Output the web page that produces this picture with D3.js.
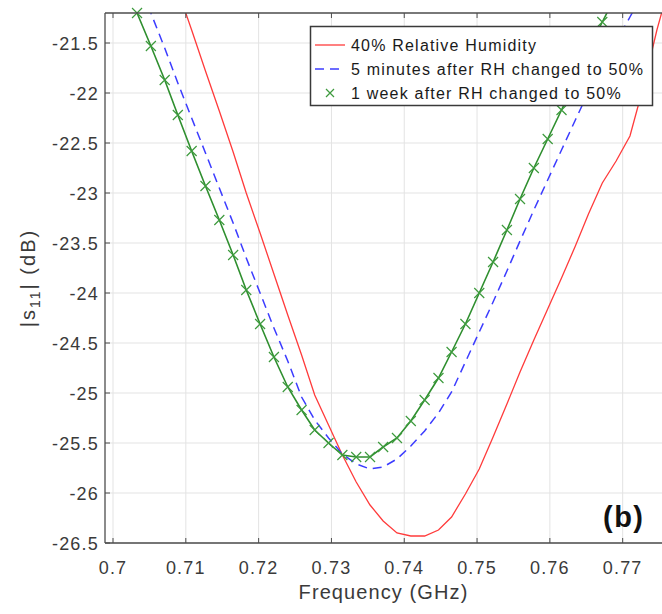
<!DOCTYPE html>
<html>
<head>
<meta charset="utf-8">
<script src="https://cdn.jsdelivr.net/npm/d3@7"></script>
<style>
  body { margin: 0; background: #fff; }
  svg { display: block; font-family: "Liberation Sans", Arial, sans-serif; }
</style>
</head>
<body>
<div id="chart"></div>
<script>
// frequency sweep points (GHz)
var freq = [0.7033, 0.7052, 0.7071, 0.7089, 0.7108, 0.7127, 0.7146, 0.7165, 0.7183, 0.7202,
            0.7221, 0.7240, 0.7259, 0.7277, 0.7296, 0.7315, 0.7334, 0.7353, 0.7371, 0.7390,
            0.7409, 0.7428, 0.7447, 0.7465, 0.7484, 0.7503, 0.7522, 0.7541, 0.7559, 0.7578,
            0.7597, 0.7616, 0.7635, 0.7653, 0.7672, 0.7691, 0.7710, 0.7729, 0.7747, 0.7766];

// |s11| in dB, null where the series has no point
var rh40 = [null, null, null, -20.97, -21.37, -21.78, -22.18, -22.59, -23.00, -23.40,
            -23.81, -24.22, -24.62, -25.02, -25.32, -25.62, -25.89, -26.12, -26.28, -26.40,
            -26.43, -26.43, -26.37, -26.24, -26.01, -25.76, -25.44, -25.11, -24.79, -24.47,
            -24.16, -23.85, -23.53, -23.21, -22.90, -22.68, -22.43, -21.92, -21.37, -20.87];

var rh50min5 = [-20.85, -21.20, -21.55, -21.90, -22.25, -22.60, -22.95, -23.30, -23.65, -24.00,
                -24.35, -24.68, -25.04, -25.27, -25.45, -25.61, -25.71, -25.76, -25.74, -25.66,
                -25.53, -25.38, -25.20, -24.99, -24.69, -24.39, -24.09, -23.78, -23.48, -23.17,
                -22.87, -22.57, -22.27, -21.99, -21.74, -21.49, -21.24, -20.99, null, null];

var rh50week = [-21.20, -21.53, -21.87, -22.22, -22.58, -22.93, -23.27, -23.62, -23.97, -24.31,
                -24.64, -24.94, -25.17, -25.37, -25.50, -25.62, -25.64, -25.64, -25.54, -25.45,
                -25.28, -25.07, -24.85, -24.59, -24.31, -24.00, -23.69, -23.37, -23.06, -22.75,
                -22.46, -22.17, -21.87, -21.57, -21.29, -21.02, null, null, null, null];

var xTicks = [0.7, 0.71, 0.72, 0.73, 0.74, 0.75, 0.76, 0.77];
var yTicks = [-26.5, -26, -25.5, -25, -24.5, -24, -23.5, -23, -22.5, -22, -21.5];

var legendLabels = ["40% Relative Humidity",
                    "5 minutes after RH changed to 50%",
                    "1 week after RH changed to 50%"];

var W = 662, H = 614;
var pl = 105, pr = 662, pt = 13, pb = 543;

var svg = d3.select("#chart").append("svg")
    .attr("width", W)
    .attr("height", H);

var x = d3.scaleLinear().domain([0.6989, 0.7754]).range([pl, pr]);
var y = d3.scaleLinear().domain([-26.5, -21.2]).range([pb, pt]);

// grid
svg.append("g").selectAll("line")
    .data(xTicks).enter().append("line")
    .attr("x1", function(d) { return x(d); })
    .attr("x2", function(d) { return x(d); })
    .attr("y1", pt).attr("y2", pb)
    .attr("stroke", "#e3e3e3").attr("stroke-width", 1);

svg.append("g").selectAll("line")
    .data(yTicks).enter().append("line")
    .attr("x1", pl).attr("x2", pr)
    .attr("y1", function(d) { return y(d); })
    .attr("y2", function(d) { return y(d); })
    .attr("stroke", "#e3e3e3").attr("stroke-width", 1);

svg.append("clipPath").attr("id", "plotclip")
    .append("rect")
    .attr("x", pl).attr("y", pt)
    .attr("width", pr - pl).attr("height", pb - pt);

function series(vals) {
    return freq.map(function(f, i) { return [f, vals[i]]; });
}

var line = d3.line()
    .defined(function(d) { return d[1] != null; })
    .x(function(d) { return x(d[0]); })
    .y(function(d) { return y(d[1]); });

var plot = svg.append("g").attr("clip-path", "url(#plotclip)");

plot.append("path")
    .attr("d", line(series(rh40)))
    .attr("fill", "none")
    .attr("stroke", "#ff3b3b")
    .attr("stroke-width", 1.3);

plot.append("path")
    .attr("d", line(series(rh50min5)))
    .attr("fill", "none")
    .attr("stroke", "#3c3cff")
    .attr("stroke-width", 1.5)
    .attr("stroke-dasharray", "9,6");

plot.append("path")
    .attr("d", line(series(rh50week)))
    .attr("fill", "none")
    .attr("stroke", "#2f8f2f")
    .attr("stroke-width", 1.6);

// x markers for the 1 week series (only those inside the y range)
var ms = 5;
svg.append("g").selectAll("path")
    .data(series(rh50week).filter(function(d) { return d[1] != null && d[1] <= -21.15; }))
    .enter().append("path")
    .attr("d", function(d) {
        var cx = x(d[0]), cy = y(d[1]);
        return "M" + (cx - ms) + "," + (cy - ms) + "L" + (cx + ms) + "," + (cy + ms) +
               "M" + (cx - ms) + "," + (cy + ms) + "L" + (cx + ms) + "," + (cy - ms);
    })
    .attr("stroke", "#3d9a3d")
    .attr("stroke-width", 1.2)
    .attr("fill", "none");

// axes box (left, bottom, top) with inward ticks
var axisColor = "#4d4d4d";
svg.append("line").attr("x1", pl).attr("x2", pl).attr("y1", pt).attr("y2", pb)
    .attr("stroke", axisColor).attr("stroke-width", 1.3);
svg.append("line").attr("x1", pl).attr("x2", pr).attr("y1", pb).attr("y2", pb)
    .attr("stroke", axisColor).attr("stroke-width", 1.3);
svg.append("line").attr("x1", pl).attr("x2", pr).attr("y1", pt).attr("y2", pt)
    .attr("stroke", axisColor).attr("stroke-width", 1.3);

svg.append("g").selectAll("line").data(xTicks).enter().append("line")
    .attr("x1", function(d) { return x(d); }).attr("x2", function(d) { return x(d); })
    .attr("y1", pb).attr("y2", pb - 5)
    .attr("stroke", axisColor).attr("stroke-width", 1);
svg.append("g").selectAll("line").data(xTicks).enter().append("line")
    .attr("x1", function(d) { return x(d); }).attr("x2", function(d) { return x(d); })
    .attr("y1", pt).attr("y2", pt + 5)
    .attr("stroke", axisColor).attr("stroke-width", 1);
svg.append("g").selectAll("line").data(yTicks).enter().append("line")
    .attr("x1", pl).attr("x2", pl + 5)
    .attr("y1", function(d) { return y(d); }).attr("y2", function(d) { return y(d); })
    .attr("stroke", axisColor).attr("stroke-width", 1);

// tick labels
svg.append("g").selectAll("text").data(xTicks).enter().append("text")
    .attr("x", function(d) { return x(d); })
    .attr("y", 574)
    .attr("text-anchor", "middle")
    .attr("font-size", 18)
    .attr("letter-spacing", 1.2)
    .attr("fill", "#3a3a3a")
    .text(function(d) { return d; });

svg.append("g").selectAll("text").data(yTicks).enter().append("text")
    .attr("x", 99)
    .attr("y", function(d) { return y(d) + 6.5; })
    .attr("text-anchor", "end")
    .attr("font-size", 18)
    .attr("letter-spacing", 1.2)
    .attr("fill", "#3a3a3a")
    .text(function(d) { return d; });

// axis titles
svg.append("text")
    .attr("x", (pl + pr) / 2)
    .attr("y", 599)
    .attr("text-anchor", "middle")
    .attr("font-size", 20)
    .attr("letter-spacing", 1.1)
    .attr("fill", "#3a3a3a")
    .text("Frequency (GHz)");

var yt = svg.append("text")
    .attr("transform", "translate(35," + ((pt + pb) / 2) + ") rotate(-90)")
    .attr("text-anchor", "middle")
    .attr("font-size", 20)
    .attr("letter-spacing", 2)
    .attr("fill", "#3a3a3a");
yt.append("tspan").text("|s");
yt.append("tspan").attr("font-size", 14).attr("dy", 5).text("11");
yt.append("tspan").attr("dy", -5).text("| (dB)");

// legend
var lg = svg.append("g");
lg.append("rect")
    .attr("x", 310.5).attr("y", 26.5)
    .attr("width", 342).attr("height", 79)
    .attr("fill", "#fff")
    .attr("stroke", "#3a3a3a")
    .attr("stroke-width", 1.5);

var rowY = [45, 69, 93];
lg.append("line").attr("x1", 315).attr("x2", 345).attr("y1", rowY[0]).attr("y2", rowY[0])
    .attr("stroke", "#ff3b3b").attr("stroke-width", 1.3);
lg.append("line").attr("x1", 315).attr("x2", 345).attr("y1", rowY[1]).attr("y2", rowY[1])
    .attr("stroke", "#3c3cff").attr("stroke-width", 1.5).attr("stroke-dasharray", "9,6");
lg.append("path")
    .attr("d", "M" + (330 - 4) + "," + (rowY[2] - 4) + "L" + (330 + 4) + "," + (rowY[2] + 4) +
               "M" + (330 - 4) + "," + (rowY[2] + 4) + "L" + (330 + 4) + "," + (rowY[2] - 4))
    .attr("stroke", "#3d9a3d").attr("stroke-width", 1.2);

lg.selectAll("text").data(legendLabels).enter().append("text")
    .attr("x", 351)
    .attr("y", function(d, i) { return rowY[i] + 6; })
    .attr("font-size", 16)
    .attr("letter-spacing", 1.2)
    .attr("fill", "#1a1a1a")
    .text(function(d) { return d; });

// panel label
svg.append("text")
    .attr("x", 603)
    .attr("y", 527)
    .attr("font-size", 29)
    .attr("font-weight", "bold")
    .attr("letter-spacing", 1.5)
    .attr("fill", "#111")
    .text("(b)");
</script>
</body>
</html>
